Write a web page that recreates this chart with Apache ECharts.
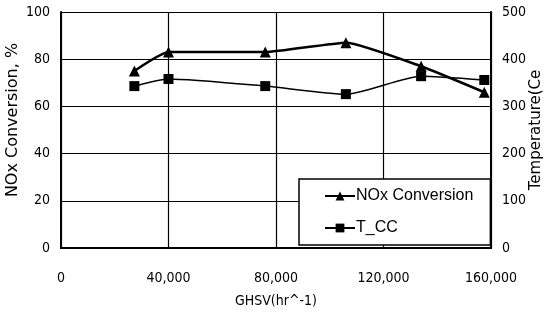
<!DOCTYPE html>
<html><head><meta charset="utf-8">
<script src="https://cdn.jsdelivr.net/npm/echarts@6/dist/echarts.min.js"></script>
<style>html,body{margin:0;padding:0;background:#fff}#c{width:548px;height:326px}</style>
</head><body><div id="c"></div>
<script>
const ghsv = [27300, 40000, 76000, 106000, 134000, 157500];
const noxConversion = [75, 83, 83, 87, 77, 66];
const tCC = [343, 358, 343, 326, 364, 356];
const xTicks = [0, 40000, 80000, 120000, 160000];
const leftTicks = [0, 20, 40, 60, 80, 100];
const rightTicks = [0, 100, 200, 300, 400, 500];

const tickFont = '"DejaVu Sans Condensed", sans-serif';
const nameFont = '"DejaVu Sans", sans-serif';
const chart = echarts.init(document.getElementById('c'), null, {renderer: 'canvas'});
const fmt = v => v.toLocaleString('en-US');
chart.setOption({
  animation: false,
  backgroundColor: '#fff',
  grid: {left: 61, right: 57, top: 12, bottom: 78, outerBoundsMode: 'none', containLabel: false},
  legend: {
    left: 299, top: 179, orient: 'vertical',
    padding: [9, 17, 9, 25], itemGap: 16,
    borderColor: '#000', borderWidth: 1.5, backgroundColor: '#fff',
    itemWidth: 30, itemHeight: 11,
    textStyle: {fontFamily: '"Liberation Sans", sans-serif', fontSize: 16, color: '#000', padding: [0,0,0,-4]},
    data: ['NOx Conversion', 'T_CC']
  },
  xAxis: {
    type: 'value', min: xTicks[0], max: xTicks[xTicks.length-1], interval: 40000,
    name: 'GHSV(hr^-1)', nameLocation: 'middle', nameGap: 46, nameMoveOverlap: false,
    nameTextStyle: {fontFamily: tickFont, fontSize: 14, color: '#000'},
    axisLine: {lineStyle: {color: '#000', width: 2}},
    axisTick: {show: false},
    axisLabel: {formatter: fmt, fontFamily: tickFont, fontSize: 14, color: '#000', margin: 23},
    splitLine: {show: true, lineStyle: {color: '#000', width: 1.2}}
  },
  yAxis: [{
    type: 'value', min: leftTicks[0], max: leftTicks[leftTicks.length-1], interval: 20,
    name: 'NOx Conversion, %', nameLocation: 'middle', nameGap: 40, nameRotate: 90, nameMoveOverlap: false,
    nameTextStyle: {fontFamily: nameFont, fontSize: 16, color: '#000', padding: [0, 0, 0, 20]},
    axisLine: {show: true, lineStyle: {color: '#000', width: 2}},
    axisTick: {show: false},
    axisLabel: {fontFamily: tickFont, fontSize: 14, color: '#000', margin: 11},
    splitLine: {show: true, lineStyle: {color: '#000', width: 1.2}}
  }, {
    type: 'value', min: rightTicks[0], max: rightTicks[rightTicks.length-1], interval: 100,
    name: 'Temperature(Ce', nameLocation: 'middle', nameGap: 38, nameRotate: 90, nameMoveOverlap: false,
    nameTextStyle: {fontFamily: nameFont, fontSize: 15, color: '#000'},
    axisLine: {show: true, lineStyle: {color: '#000', width: 2}},
    axisTick: {show: false},
    axisLabel: {fontFamily: tickFont, fontSize: 14, color: '#000', margin: 11},
    splitLine: {show: false}
  }],
  series: [{
    name: 'NOx Conversion', type: 'line', yAxisIndex: 0, smooth: 0.15,
    data: ghsv.map((x, i) => [x, noxConversion[i]]),
    symbol: 'triangle', symbolSize: 11,
    lineStyle: {color: '#000', width: 2.5},
    itemStyle: {color: '#000'}
  }, {
    name: 'T_CC', type: 'line', yAxisIndex: 1, smooth: 0.2,
    data: ghsv.map((x, i) => [x, tCC[i]]),
    symbol: 'rect', symbolSize: 10,
    lineStyle: {color: '#000', width: 1.5},
    itemStyle: {color: '#000'}
  }]
});
</script></body></html>
